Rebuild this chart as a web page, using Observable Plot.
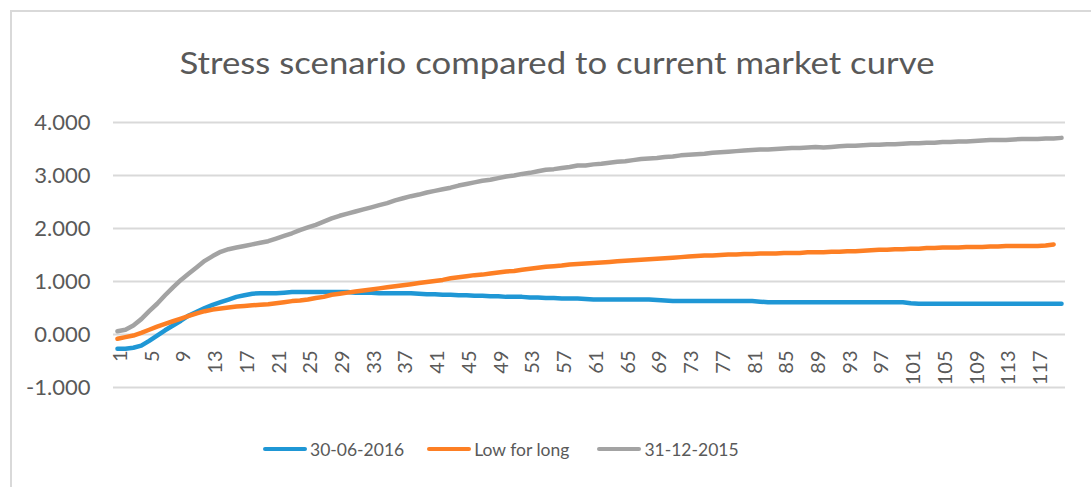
<!DOCTYPE html>
<html>
<head>
<meta charset="utf-8">
<script src="https://cdn.jsdelivr.net/npm/d3@7"></script>
<script src="https://cdn.jsdelivr.net/npm/@observablehq/plot@0.6"></script>
<style>
  html, body { margin: 0; padding: 0; background: #fff; overflow: hidden; }
  #frame {
    position: absolute; left: 10px; top: 10px; width: 1090px; height: 500px;
    border-left: 2px solid #d9d9d9; border-top: 2px solid #d9d9d9;
    font-family: Lato, "Open Sans", sans-serif; color: #595959;
  }
  #title {
    height: 88px; box-sizing: border-box; padding-top: 35px;
    font-size: 30px; line-height: 30px; text-align: center; color: #595959;
  }
  #title span { display: inline-block; transform-origin: 50% 50%; }
  #chart svg { display: block; }
  #legend {
    margin-top: 37px; padding-left: 251px; display: flex; align-items: center;
    height: 24px; font-size: 17.5px; color: #595959;
  }
  .item { display: flex; align-items: center; margin-right: 23px; }
  .item:nth-child(2) { margin-right: 28px; }
  .item svg { margin-right: 3px; }
</style>
</head>
<body>
<div id="frame">
  <div id="title"><span id="titleText">Stress scenario compared to current market curve</span></div>
  <div id="chart"></div>
  <div id="legend"></div>
</div>
<script>
const categories = Array.from({length: 120}, (_, i) => i + 1);
const xTickLabels = [1, 5, 9, 13, 17, 21, 25, 29, 33, 37, 41, 45, 49, 53, 57, 61, 65, 69, 73, 77, 81, 85, 89, 93, 97, 101, 105, 109, 113, 117];
const yTicks = [-1, 0, 1, 2, 3, 4];
const seriesNames = ["30-06-2016", "Low for long", "31-12-2015"];
const seriesColors = ["#1f97d5", "#fd7f24", "#a3a3a3"];

const blue = [
  -0.27, -0.27, -0.25, -0.21, -0.12, -0.02, 0.08, 0.17, 0.26, 0.36,
  0.43, 0.50, 0.56, 0.61, 0.66, 0.71, 0.74, 0.77, 0.78, 0.78,
  0.78, 0.79, 0.80, 0.80, 0.80, 0.80, 0.80, 0.80, 0.80, 0.80,
  0.79, 0.79, 0.79, 0.78, 0.78, 0.78, 0.78, 0.78, 0.77, 0.76,
  0.76, 0.75, 0.75, 0.74, 0.74, 0.73, 0.73, 0.72, 0.72, 0.71,
  0.71, 0.71, 0.70, 0.70, 0.69, 0.69, 0.68, 0.68, 0.68, 0.67,
  0.66, 0.66, 0.66, 0.66, 0.66, 0.66, 0.66, 0.66, 0.65, 0.64,
  0.63, 0.63, 0.63, 0.63, 0.63, 0.63, 0.63, 0.63, 0.63, 0.63,
  0.63, 0.62, 0.61, 0.61, 0.61, 0.61, 0.61, 0.61, 0.61, 0.61,
  0.61, 0.61, 0.61, 0.61, 0.61, 0.61, 0.61, 0.61, 0.61, 0.61,
  0.59, 0.58, 0.58, 0.58, 0.58, 0.58, 0.58, 0.58, 0.58, 0.58,
  0.58, 0.58, 0.58, 0.58, 0.58, 0.58, 0.58, 0.58, 0.58, 0.58
];
const orange = [
  -0.08, -0.05, -0.02, 0.03, 0.09, 0.15, 0.20, 0.25, 0.30, 0.35,
  0.40, 0.44, 0.47, 0.49, 0.51, 0.53, 0.54, 0.55, 0.56, 0.57,
  0.59, 0.61, 0.63, 0.64, 0.66, 0.69, 0.71, 0.75, 0.77, 0.79,
  0.81, 0.83, 0.85, 0.87, 0.89, 0.91, 0.93, 0.95, 0.97, 0.99,
  1.01, 1.03, 1.06, 1.08, 1.10, 1.12, 1.13, 1.15, 1.17, 1.19,
  1.20, 1.22, 1.24, 1.26, 1.28, 1.29, 1.30, 1.32, 1.33, 1.34,
  1.35, 1.36, 1.37, 1.38, 1.39, 1.40, 1.41, 1.42, 1.43, 1.44,
  1.45, 1.46, 1.47, 1.48, 1.49, 1.49, 1.50, 1.51, 1.51, 1.52,
  1.52, 1.53, 1.53, 1.53, 1.54, 1.54, 1.54, 1.55, 1.55, 1.55,
  1.56, 1.56, 1.57, 1.57, 1.58, 1.59, 1.60, 1.60, 1.61, 1.61,
  1.62, 1.62, 1.63, 1.63, 1.64, 1.64, 1.64, 1.65, 1.65, 1.65,
  1.66, 1.66, 1.67, 1.67, 1.67, 1.67, 1.67, 1.68, 1.70
];
const grey = [
  0.06, 0.09, 0.17, 0.29, 0.44, 0.58, 0.74, 0.89, 1.03, 1.15,
  1.27, 1.39, 1.48, 1.56, 1.61, 1.64, 1.67, 1.70, 1.73, 1.76,
  1.81, 1.86, 1.91, 1.97, 2.02, 2.07, 2.13, 2.19, 2.24, 2.28,
  2.32, 2.36, 2.40, 2.44, 2.48, 2.53, 2.57, 2.61, 2.64, 2.68,
  2.71, 2.74, 2.77, 2.81, 2.84, 2.87, 2.90, 2.92, 2.95, 2.98,
  3.00, 3.03, 3.05, 3.08, 3.11, 3.12, 3.14, 3.16, 3.19, 3.19,
  3.21, 3.22, 3.24, 3.26, 3.27, 3.29, 3.31, 3.32, 3.33, 3.35,
  3.36, 3.38, 3.39, 3.40, 3.41, 3.43, 3.44, 3.45, 3.46, 3.47,
  3.48, 3.49, 3.49, 3.50, 3.51, 3.52, 3.52, 3.53, 3.54, 3.53,
  3.54, 3.55, 3.56, 3.56, 3.57, 3.58, 3.58, 3.59, 3.59, 3.60,
  3.61, 3.61, 3.62, 3.62, 3.63, 3.63, 3.64, 3.64, 3.65, 3.66,
  3.67, 3.67, 3.67, 3.68, 3.69, 3.69, 3.69, 3.70, 3.70, 3.71
];

const seriesValues = [blue, orange, grey];
const rows = [];
seriesValues.forEach((vals, s) => {
  vals.forEach((v, i) => rows.push({x: categories[i], y: v, series: seriesNames[s]}));
});

const chart = Plot.plot({
  width: 1088,
  height: 300,
  marginTop: 22,
  marginBottom: 13,
  marginLeft: 101,
  marginRight: 35,
  style: {fontFamily: "Lato, 'Open Sans', sans-serif", color: "#595959", background: "#fff"},
  x: {type: "linear", domain: [0.5, categories.length + 0.5], axis: null},
  y: {domain: [-1, 4], axis: null},
  color: {domain: seriesNames, range: seriesColors},
  marks: [
    Plot.gridY(yTicks, {stroke: "#d9d9d9", strokeOpacity: 1, strokeWidth: 2}),
    Plot.axisY(yTicks, {tickSize: 0, tickPadding: 23, fontSize: 22, tickFormat: d => d.toFixed(3), label: null, fill: "#595959"}),
    Plot.text(xTickLabels, {x: d => d, y: () => 0, text: d => String(d), rotate: -90, textAnchor: "end", lineAnchor: "middle", dy: 16, dx: 3, fontSize: 20, fill: "#595959"}),
    Plot.line(rows, {x: "x", y: "y", z: "series", stroke: "series", strokeWidth: 4.5, strokeLinecap: "round", strokeLinejoin: "round"})
  ]
});
document.getElementById("chart").appendChild(chart);

// stretch the title horizontally to the reference's width
const tt = document.getElementById("titleText");
const w = tt.getBoundingClientRect().width;
if (w > 0) tt.style.transform = `scaleX(${755 / w})`;

const legend = document.getElementById("legend");
seriesNames.forEach((name, i) => {
  const item = document.createElement("div");
  item.className = "item";
  item.innerHTML = `<svg width="44" height="10"><line x1="2" y1="5" x2="42" y2="5" stroke="${seriesColors[i]}" stroke-width="4" stroke-linecap="round"/></svg><span>${name}</span>`;
  legend.appendChild(item);
});
</script>
</body>
</html>
